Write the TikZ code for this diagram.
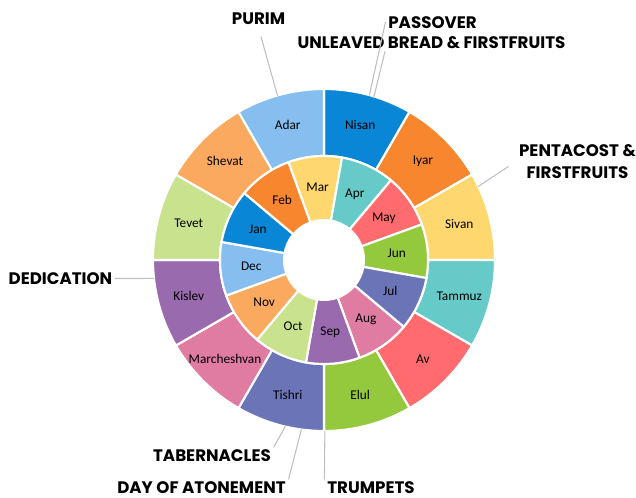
\documentclass[tikz,border=0pt]{standalone}
\usepackage{fontspec}
\setmainfont{Carlito}
\newfontfamily\feastfont{Poppins}
\usetikzlibrary{calc}
\definecolor{cBlue}{HTML}{0A86D6}
\definecolor{cOrange}{HTML}{F8862E}
\definecolor{cYellow}{HTML}{FED76E}
\definecolor{cTeal}{HTML}{66CBC8}
\definecolor{cRed}{HTML}{FF6B6E}
\definecolor{cGreen}{HTML}{95C93D}
\definecolor{cIndigo}{HTML}{6C74B8}
\definecolor{cPink}{HTML}{E07CA2}
\definecolor{cPurple}{HTML}{9A6AAE}
\definecolor{cLime}{HTML}{C9E28E}
\definecolor{cPeach}{HTML}{FBA95F}
\definecolor{cSky}{HTML}{86BFEF}
\begin{document}
\begin{tikzpicture}[x=0.75pt,y=0.75pt, line join = round, line cap = round, font=\fontsize{10}{12}\selectfont]
            \tikzset{seg/.style={draw=white,line width=1.6pt},
              feast/.style={font=\feastfont\bfseries\fontsize{12.5}{16.5}\selectfont, inner sep=2pt, align=center},
              lead/.style={draw=black!25,line width=0.8pt}}
            \useasboundingbox (-324,-238) rectangle (312,260);
            \draw[seg,fill=cBlue] (90:104) arc (90:60:104) -- (60:171) arc (60:90:171) -- cycle; \node (nisan) at (75:140) {Nisan};
            \draw[seg,fill=cOrange] (60:104) arc (60:30:104) -- (30:171) arc (30:60:171) -- cycle; \node (iyar) at (45:140) {Iyar};
            \draw[seg,fill=cYellow] (30:104) arc (30:0:104) -- (0:171) arc (0:30:171) -- cycle; \node (sivan) at (15:140) {Sivan};
            \draw[seg,fill=cTeal] (0:104) arc (0:-30:104) -- (-30:171) arc (-30:0:171) -- cycle; \node (tammuz) at (-15:140) {Tammuz};
            \draw[seg,fill=cRed] (-30:104) arc (-30:-60:104) -- (-60:171) arc (-60:-30:171) -- cycle; \node (av) at (-45:140) {Av};
            \draw[seg,fill=cGreen] (-60:104) arc (-60:-90:104) -- (-90:171) arc (-90:-60:171) -- cycle; \node (elul) at (-75:140) {Elul};
            \draw[seg,fill=cIndigo] (-90:104) arc (-90:-120:104) -- (-120:171) arc (-120:-90:171) -- cycle; \node (tishri) at (-105:140) {Tishri};
            \draw[seg,fill=cPink] (-120:104) arc (-120:-150:104) -- (-150:171) arc (-150:-120:171) -- cycle; \node (marcheshvan) at (-135:140) {Marcheshvan};
            \draw[seg,fill=cPurple] (-150:104) arc (-150:-180:104) -- (-180:171) arc (-180:-150:171) -- cycle; \node (kislev) at (-165:140) {Kislev};
            \draw[seg,fill=cLime] (180:104) arc (180:150:104) -- (150:171) arc (150:180:171) -- cycle; \node (tevet) at (165:140) {Tevet};
            \draw[seg,fill=cPeach] (150:104) arc (150:120:104) -- (120:171) arc (120:150:171) -- cycle; \node (shevat) at (135:140) {Shevat};
            \draw[seg,fill=cSky] (120:104) arc (120:90:104) -- (90:171) arc (90:120:171) -- cycle; \node (adar) at (105:140) {Adar};
            \draw[seg,fill=cYellow] (110:40) arc (110:80:40) -- (80:104) arc (80:110:104) -- cycle; \node (mar) at (95:73) {Mar};
            \draw[seg,fill=cTeal] (80:40) arc (80:50:40) -- (50:104) arc (50:80:104) -- cycle; \node (apr) at (65:73) {Apr};
            \draw[seg,fill=cRed] (50:40) arc (50:20:40) -- (20:104) arc (20:50:104) -- cycle; \node (may) at (35:73) {May};
            \draw[seg,fill=cGreen] (20:40) arc (20:-10:40) -- (-10:104) arc (-10:20:104) -- cycle; \node (jun) at (5:73) {Jun};
            \draw[seg,fill=cIndigo] (-10:40) arc (-10:-40:40) -- (-40:104) arc (-40:-10:104) -- cycle; \node (jul) at (-25:73) {Jul};
            \draw[seg,fill=cPink] (-40:40) arc (-40:-70:40) -- (-70:104) arc (-70:-40:104) -- cycle; \node (aug) at (-55:73) {Aug};
            \draw[seg,fill=cPurple] (-70:40) arc (-70:-100:40) -- (-100:104) arc (-100:-70:104) -- cycle; \node (sep) at (-85:73) {Sep};
            \draw[seg,fill=cLime] (-100:40) arc (-100:-130:40) -- (-130:104) arc (-130:-100:104) -- cycle; \node (oct) at (-115:73) {Oct};
            \draw[seg,fill=cPeach] (-130:40) arc (-130:-160:40) -- (-160:104) arc (-160:-130:104) -- cycle; \node (nov) at (-145:73) {Nov};
            \draw[seg,fill=cSky] (-160:40) arc (-160:-190:40) -- (-190:104) arc (-190:-160:104) -- cycle; \node (dec) at (-175:73) {Dec};
            \draw[seg,fill=cBlue] (170:40) arc (170:140:40) -- (140:104) arc (140:170:104) -- cycle; \node (jan) at (155:73) {Jan};
            \draw[seg,fill=cOrange] (140:40) arc (140:110:40) -- (110:104) arc (110:140:104) -- cycle; \node (feb) at (125:73) {Feb};
            \node[feast] (purim) at (-65.5,241) {PURIM};
            \node[feast] (passover) at (108.5,237.5) {PASSOVER};
            \node[feast] (unleaved) at (107.5,217.5) {UNLEAVED BREAD \& FIRSTFRUITS};
            \node[feast] (pentacost) at (253.5,98.5) {PENTACOST \&\\FIRSTFRUITS};
            \node[feast] (dedication) at (-263.5,-18.5) {DEDICATION};
            \node[feast] (tabernacles) at (-112,-196) {TABERNACLES};
            \node[feast] (atonement) at (-122.5,-228) {DAY OF ATONEMENT};
            \node[feast] (trumpets) at (47,-228) {TRUMPETS};
            \coordinate (adarTip) at (105.8:171);
            \coordinate (nisanTipA) at (74.6:171);
            \coordinate (nisanTipB) at (73:171);
            \coordinate (sivanTip) at (25.5:171);
            \coordinate (kislevTip) at (186.2:171);
            \coordinate (tishriTipA) at (256.9:171);
            \coordinate (tishriTipB) at (262.4:171);
            \coordinate (tishriTipC) at (270.3:171);
            \draw[lead, shorten <=7pt] (purim.south) -- (adarTip);
            \draw[lead] (passover.west) -- (nisanTipA);
            \draw[lead] ($(unleaved.south west)!.33!(unleaved.south east)$) -- (nisanTipB);
            \draw[lead, shorten <=7pt] (pentacost.west) -- (sivanTip);
            \draw[lead] (dedication.east) -- (kislevTip);
            \draw[lead] (tabernacles.north east) -- (tishriTipA);
            \draw[lead] (atonement.north east) -- (tishriTipB);
            \draw[lead] (trumpets.north west) -- (tishriTipC);
        \end{tikzpicture}
\end{document}
